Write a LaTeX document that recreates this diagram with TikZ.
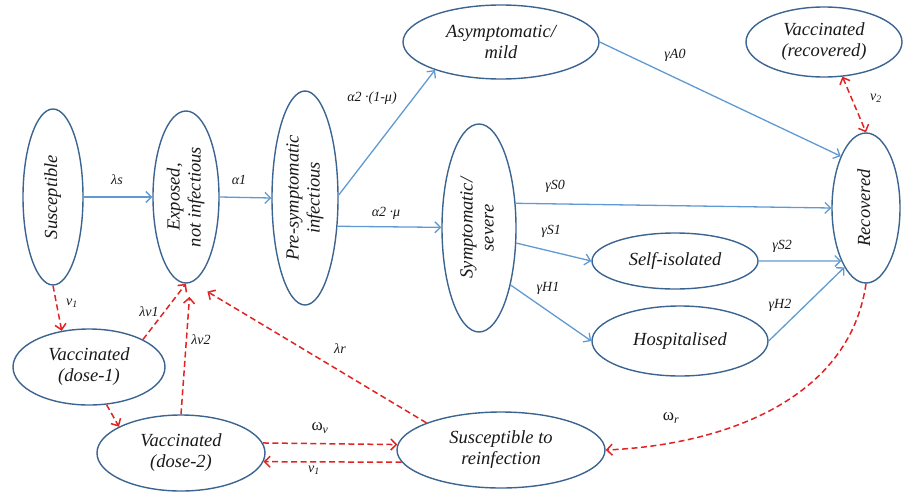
\documentclass[tikz,border=0pt]{standalone}
\usepackage{fontspec}
\setmainfont{Liberation Serif}
\usetikzlibrary{shapes.geometric,arrows.meta,calc}
\definecolor{ell}{RGB}{60,100,145}
\definecolor{arr}{RGB}{95,155,210}
\definecolor{vred}{RGB}{225,35,35}
\definecolor{txt}{RGB}{25,25,25}
\newcommand{\vt}[1]{\rotatebox{90}{\begin{tabular}{@{}c@{}}#1\end{tabular}}}
\begin{document}
\begin{tikzpicture}[x=1pt,y=-1pt,
 st/.style={ellipse,draw=ell,line width=1.4pt,inner sep=0pt,font=\fontsize{18.5}{21}\selectfont\itshape,text=txt,align=center},
 bl/.style={draw=arr,line width=1.3pt,-{Straight Barb[length=5.5pt,width=11pt]}},
 rd/.style={draw=vred,line width=1.5pt,dash pattern=on 6pt off 3.5pt,-{Straight Barb[length=5.5pt,width=11pt]}},
 rdb/.style={rd,{Straight Barb[length=5.5pt,width=11pt]}-{Straight Barb[length=5.5pt,width=11pt]}},
 lb/.style={font=\fontsize{14}{16}\selectfont\itshape,text=txt,inner sep=0pt}]
\useasboundingbox (0,0) rectangle (904,493);
% nodes
\node[st,minimum width=60pt,minimum height=176pt] (sus) at (53,197) {\vt{Susceptible}};
\node[st,minimum width=66pt,minimum height=172pt] (exp) at (186,197) {\vt{Exposed,\\not infectious}};
\node[st,minimum width=66pt,minimum height=214pt] (pre) at (305,198) {\vt{Pre-symptomatic\\infectious}};
\node[st,minimum width=196pt,minimum height=74pt] (asym) at (501,42) {Asymptomatic/\\mild};
\node[st,minimum width=74pt,minimum height=208pt] (sym) at (479,228) {\vt{Symptomatic/\\severe}};
\node[st,minimum width=156pt,minimum height=70pt] (vrec) at (824,42) {Vaccinated\\(recovered)};
\node[st,minimum width=68pt,minimum height=150pt] (rec) at (866,208) {\vt{Recovered}};
\node[st,minimum width=166pt,minimum height=56pt] (self) at (675,261) {Self-isolated};
\node[st,minimum width=176pt,minimum height=70pt] (hosp) at (680,341) {Hospitalised};
\node[st,minimum width=152pt,minimum height=76pt] (d1) at (89,367) {Vaccinated\\(dose-1)};
\node[st,minimum width=168pt,minimum height=76pt] (d2) at (181,453) {Vaccinated\\(dose-2)};
\node[st,minimum width=208pt,minimum height=76pt] (sre) at (501,450) {Susceptible to\\reinfection};
% blue connectors
\draw[bl] (sus.east) -- (exp.west);
\draw[bl] (exp.east) -- (pre.west);
\draw[bl] (pre.5) -- (asym.203);
\draw[bl] (pre.-41) -- (sym.179);
\draw[bl] (asym.east) -- (rec.116);
\draw[bl] (sym.34) -- (rec.west);
\draw[bl] (sym.-22) -- (self.west);
\draw[bl] (sym.-61) -- (hosp.west);
\draw[bl] (self.east) -- (rec.245);
\draw[bl] (hosp.east) -- (rec.250);
% red connectors
\draw[rdb] (vrec.-62) -- (rec.north);
\draw[rd] (rec.south) .. controls +(-17,117) and +(116,-5) .. (sre.east);
\draw[rd] (sus.south) -- (d1.127);
\draw[rd] (d1.27) -- (exp.-90);
\draw[rd] (d1.-65) -- (d2.157);
\draw[rd,shorten >=14pt] (d2.north) -- (exp.-87);
\draw[rd,shorten >=18pt] (sre.160) -- (exp.-86);
\draw[rd] (d2.7) -- (sre.177);
\draw[rd] (sre.187) -- (d2.-6);
% labels
\node[lb] (l1) at (117,180) {λs};
\node[lb] (l2) at (239,180) {α1};
\node[lb] (l3) at (372,98) {α2 ·(1-μ)};
\node[lb] (l4) at (386,213) {α2 ·μ};
\node[lb] (l5) at (675,55) {γA0};
\node[lb] (l6) at (876,98) {v\textsubscript{2}};
\node[lb] (l7) at (555,186) {γS0};
\node[lb] (l8) at (551,231) {γS1};
\node[lb] (l9) at (782,246) {γS2};
\node[lb] (l10) at (548,288) {γH1};
\node[lb] (l11) at (780,305) {γH2};
\node[lb] (l12) at (72,303) {v\textsubscript{1}};
\node[lb] (l13) at (149,312) {λv1};
\node[lb] (l14) at (201,340) {λv2};
\node[lb] (l15) at (340,349) {λr};
\node[lb,font=\fontsize{17}{19}\selectfont] (l16) at (320,428) {ω\textsubscript{\textit{v}}};
\node[lb] (l17) at (314,470) {v\textsubscript{1}};
\node[lb,font=\fontsize{17}{19}\selectfont] (l18) at (671,418) {ω\textsubscript{\textit{r}}};
\end{tikzpicture}
\end{document}
